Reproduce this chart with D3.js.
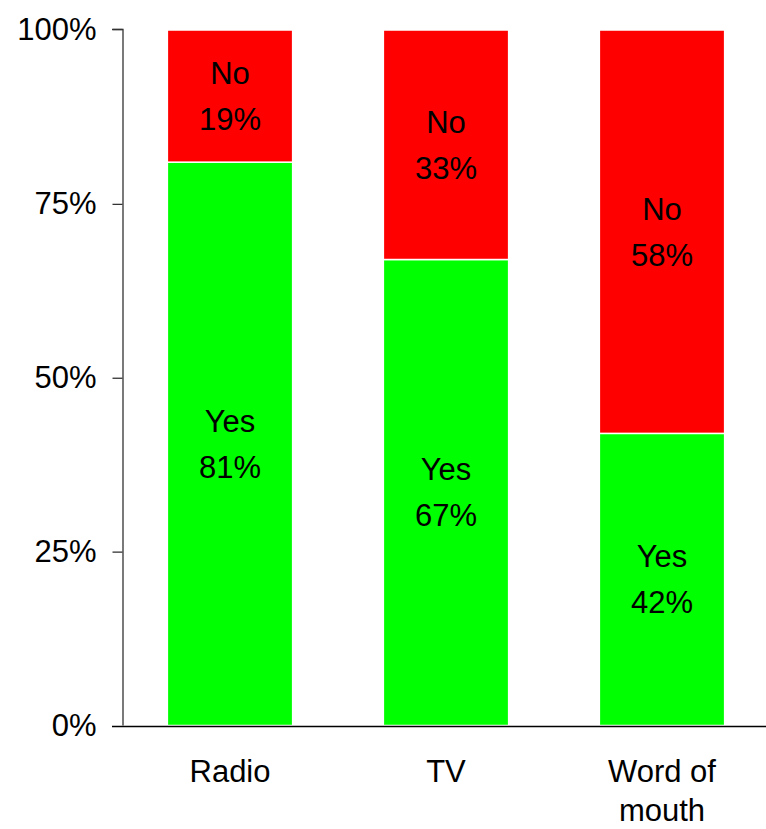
<!DOCTYPE html>
<html><head><meta charset="utf-8">
<script src="https://cdn.jsdelivr.net/npm/d3@7"></script>
<style>body{margin:0;background:#fff;}svg{display:block;font-family:"Liberation Sans",Arial,Helvetica,sans-serif;}</style>
</head><body>
<svg id="chart" width="766" height="829"></svg>
<script>
const categories = ["Radio", "TV", "Word of mouth"];
const categoryLines = [["Radio"], ["TV"], ["Word of", "mouth"]];
const seriesNames = ["Yes", "No"];
const yesValues = [81, 67, 42];
const noValues = [19, 33, 58];
const yTicks = [0, 25, 50, 75, 100];
const colors = {Yes: "#00ff00", No: "#ff0000"};

const svg = d3.select("#chart");
const x = d3.scaleBand().domain(categories).range([122, 770]).paddingInner(0.42).paddingOuter(0.21);
const y = d3.scaleLinear().domain([0, 100]).range([725.5, 30]);

const rows = categories.map((c, i) => ({cat: c, Yes: yesValues[i], No: noValues[i]}));
const stack = d3.stack().keys(seriesNames)(rows);

const g = svg.append("g");
stack.forEach(layer => {
  const key = layer.key;
  layer.forEach(d => {
    g.append("rect")
      .attr("x", x(d.data.cat))
      .attr("width", x.bandwidth())
      .attr("y", y(d[1]))
      .attr("height", y(d[0]) - y(d[1]))
      .attr("fill", colors[key])
      .attr("stroke", "#fff")
      .attr("stroke-width", 1.5);
    const cy = (y(d[0]) + y(d[1])) / 2;
    const t = g.append("text")
      .attr("text-anchor", "middle")
      .attr("font-size", 31)
      .attr("fill", "#000");
    t.append("tspan").attr("x", x(d.data.cat) + x.bandwidth() / 2).attr("y", cy - 23).attr("dy", "0.35em").text(key);
    t.append("tspan").attr("x", x(d.data.cat) + x.bandwidth() / 2).attr("y", cy + 23).attr("dy", "0.35em").text((d[1] - d[0]) + "%");
  });
});

// y axis
const yAxis = d3.axisLeft(y).tickValues(yTicks).tickFormat(d => d + "%").tickSize(10).tickPadding(16);
const ya = svg.append("g").attr("transform", "translate(122.5,0)").call(yAxis);
ya.select(".domain").attr("d", "M-10,29.5H0.5V725.5").attr("stroke", "#333").attr("stroke-width", 1.3);
ya.selectAll(".tick line").attr("stroke", "#333").attr("stroke-width", 1.3);
ya.selectAll(".tick text").attr("font-size", 31).attr("fill", "#000").attr("font-family", "Liberation Sans, Arial, sans-serif");
ya.selectAll(".tick").filter(d => d === 100 || d === 0).select("line").remove();

// x axis line
svg.append("line").attr("x1", 112).attr("x2", 766).attr("y1", 726.5).attr("y2", 726.5).attr("stroke", "#000").attr("stroke-width", 1.5);
svg.append("line").attr("x1", 112).attr("x2", 122.5).attr("y1", 29.5).attr("y2", 29.5).attr("stroke", "#333").attr("stroke-width", 1.3);

// x labels
categories.forEach((c, i) => {
  const t = svg.append("text").attr("text-anchor", "middle").attr("font-size", 31).attr("fill", "#000");
  categoryLines[i].forEach((line, j) => {
    t.append("tspan").attr("x", x(c) + x.bandwidth() / 2).attr("y", 782 + j * 39).text(line);
  });
});
</script>
</body></html>
